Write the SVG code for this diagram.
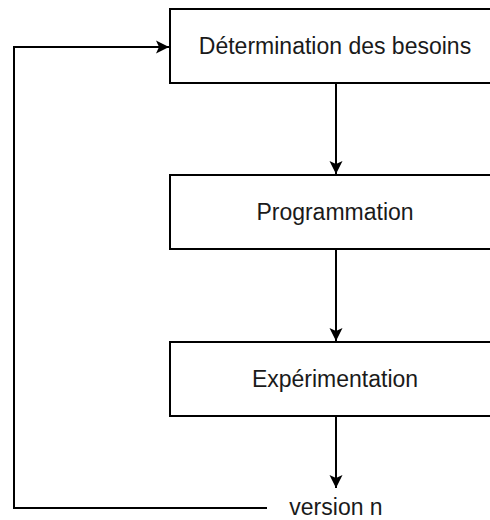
<svg xmlns="http://www.w3.org/2000/svg" width="490" height="520" viewBox="0 0 490 520">
  <style>
    .box { fill: #ffffff; stroke: #000000; stroke-width: 2; }
    .lbl { font-family: "Liberation Sans", Arial, sans-serif; font-size: 23px; fill: #1a1a1a; text-anchor: middle; }
    .edge { fill: none; stroke: #000000; stroke-width: 2; }
  </style>
  <defs>
    <marker id="arrow" viewBox="0 0 14 14" refX="13" refY="7" markerWidth="14" markerHeight="14" markerUnits="userSpaceOnUse" orient="auto">
      <path d="M0,0.5 L13,7 L0,13.5 L3,7 Z" fill="#000000"/>
    </marker>
  </defs>
  <rect width="490" height="520" fill="#ffffff"/>

  <!-- flow arrows and the feedback loop back to the first step -->
  <g id="connectors">
    <path class="edge" d="M336,83 L336,174" marker-end="url(#arrow)"/>
    <path class="edge" d="M336,249 L336,341" marker-end="url(#arrow)"/>
    <path class="edge" d="M336,416 L336,488" marker-end="url(#arrow)"/>
    <path class="edge" d="M267,508 L14,508 L14,47 L169,47" marker-end="url(#arrow)"/>
  </g>

  <g id="besoins">
    <rect class="box" x="170" y="9" width="332" height="74"/>
    <text class="lbl" x="335" y="54">Détermination des besoins</text>
  </g>
  <g id="programmation">
    <rect class="box" x="170" y="175" width="332" height="74"/>
    <text class="lbl" x="335" y="220">Programmation</text>
  </g>
  <g id="experimentation">
    <rect class="box" x="170" y="342" width="332" height="74"/>
    <text class="lbl" x="335" y="387">Expérimentation</text>
  </g>
  <g id="version">
    <text class="lbl" x="336" y="515">version n</text>
  </g>
</svg>
